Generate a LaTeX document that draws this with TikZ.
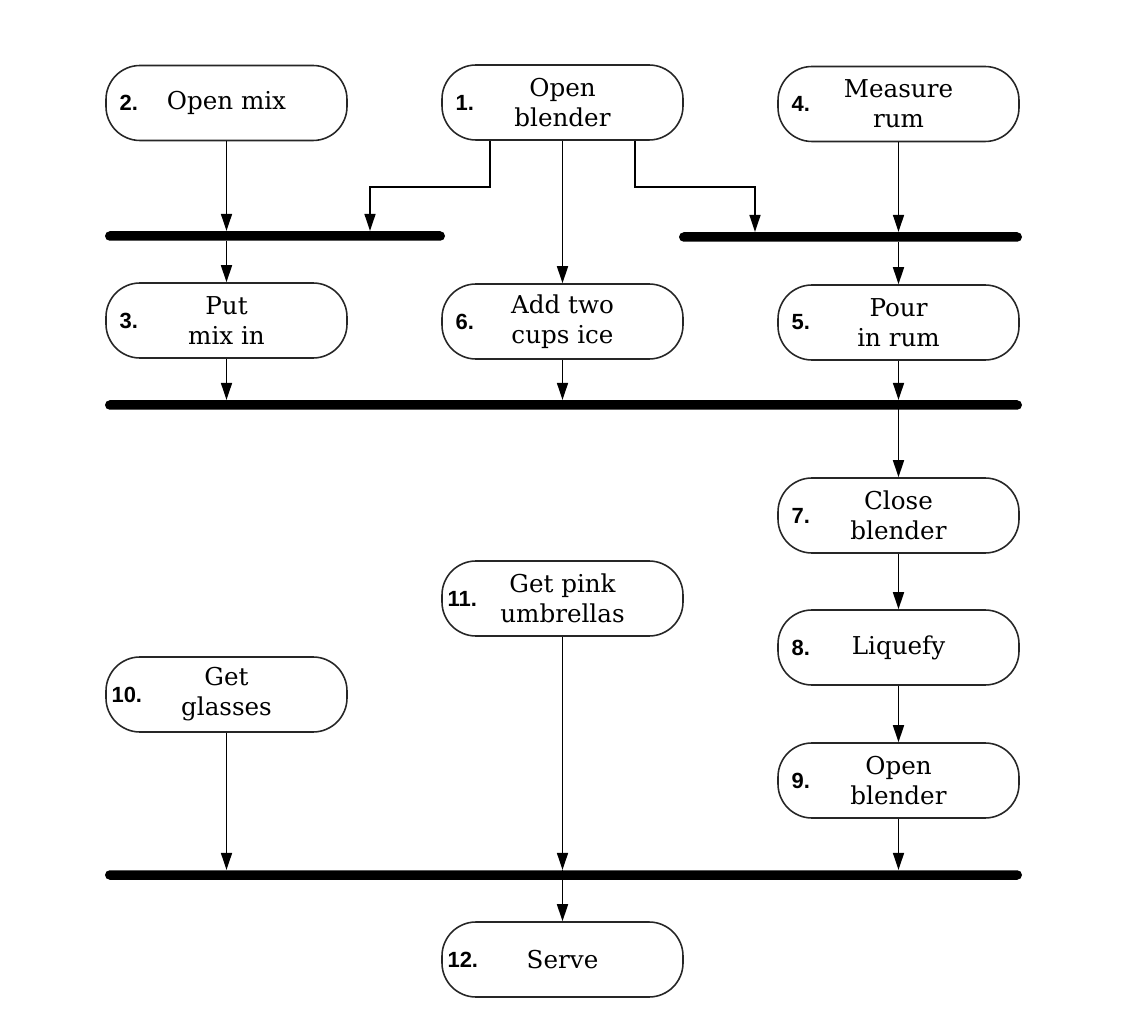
\documentclass[tikz,border=0pt]{standalone}
\usepackage{fontspec}
\setmainfont{DejaVu Serif}
\newfontfamily\numfont{Liberation Sans}
\usetikzlibrary{arrows.meta}
\tikzset{
  act/.style={draw=black!85, line width=0.9pt, rounded corners=0.68cm, minimum width=4.82cm, minimum height=1.5cm, align=center, inner sep=0pt, font=\fontsize{14}{17}\selectfont},
  num/.style={anchor=west, inner sep=0pt, font=\numfont\bfseries\fontsize{12.5}{14}\selectfont},
  bar/.style={fill=black, rounded corners=0.095cm, minimum height=0.19cm, inner sep=0pt},
  flow/.style={line width=0.9pt, -{Triangle[length=0.34cm, width=0.22cm]}}
}
\begin{document}
\begin{tikzpicture}
\useasboundingbox (0,0) rectangle (22.6,-20.36);

\node[act] (n2) at (4.53,-2.06) {Open mix};
\node[act] (n1) at (11.25,-2.05) {Open\\blender};
\node[act] (n4) at (17.97,-2.08) {Measure\\rum};
\node[act] (n3) at (4.53,-6.41) {Put\\mix in};
\node[act] (n6) at (11.25,-6.43) {Add two\\cups ice};
\node[act] (n5) at (17.97,-6.45) {Pour\\in rum};
\node[act] (n7) at (17.97,-10.31) {Close\\blender};
\node[act] (n11) at (11.25,-11.97) {Get pink\\umbrellas};
\node[act] (n10) at (4.53,-13.89) {Get\\glasses};
\node[act] (n8) at (17.97,-12.95) {Liquefy};
\node[act] (n9) at (17.97,-15.61) {Open\\blender};
\node[act] (n12) at (11.25,-19.19) {Serve};

\node[num] (n1num) at ([xshift=0.28cm]n1.west) {1.};
\node[num] (n2num) at ([xshift=0.28cm]n2.west) {2.};
\node[num] (n3num) at ([xshift=0.28cm]n3.west) {3.};
\node[num] (n4num) at ([xshift=0.28cm]n4.west) {4.};
\node[num] (n5num) at ([xshift=0.28cm]n5.west) {5.};
\node[num] (n6num) at ([xshift=0.28cm]n6.west) {6.};
\node[num] (n7num) at ([xshift=0.28cm]n7.west) {7.};
\node[num] (n8num) at ([xshift=0.28cm]n8.west) {8.};
\node[num] (n9num) at ([xshift=0.28cm]n9.west) {9.};
\node[num] (n10num) at ([xshift=0.12cm]n10.west) {10.};
\node[num] (n11num) at ([xshift=0.12cm]n11.west) {11.};
\node[num] (n12num) at ([xshift=0.12cm]n12.west) {12.};

% synchronisation bars
\node[bar, minimum width=6.8cm] (syncA) at (5.50,-4.72) {};
\node[bar, minimum width=6.86cm] (syncB) at (17.01,-4.74) {};
\node[bar, minimum width=18.34cm] (syncC) at (11.27,-8.10) {};
\node[bar, minimum width=18.34cm] (syncD) at (11.27,-17.50) {};

\coordinate (elbowL) at (7.40,-3.74);
\coordinate (elbowR) at (15.10,-3.74);

\draw[flow] (n2.south) -- (n2 |- syncA.north);
\draw[flow] ([xshift=-1.45cm]n1.south) |- (elbowL) -- (elbowL |- syncA.north);
\draw[flow] (n1.south) -- (n6.north);
\draw[flow] ([xshift=1.45cm]n1.south) |- (elbowR) -- (elbowR |- syncB.north);
\draw[flow] (n4.south) -- (n4 |- syncB.north);
\draw[flow] (n3 |- syncA.south) -- (n3.north);
\draw[flow] (n5 |- syncB.south) -- (n5.north);

\draw[flow] (n3.south) -- (n3 |- syncC.north);
\draw[flow] (n6.south) -- (n6 |- syncC.north);
\draw[flow] (n5.south) -- (n5 |- syncC.north);
\draw[flow] (n7 |- syncC.north) -- (n7.north);
\draw[flow] (n7.south) -- (n8.north);
\draw[flow] (n8.south) -- (n9.north);

\draw[flow] (n10.south) -- (n10 |- syncD.north);
\draw[flow] (n11.south) -- (n11 |- syncD.north);
\draw[flow] (n9.south) -- (n9 |- syncD.north);
\draw[flow] (n12 |- syncD.north) -- (n12.north);

\end{tikzpicture}
\end{document}
